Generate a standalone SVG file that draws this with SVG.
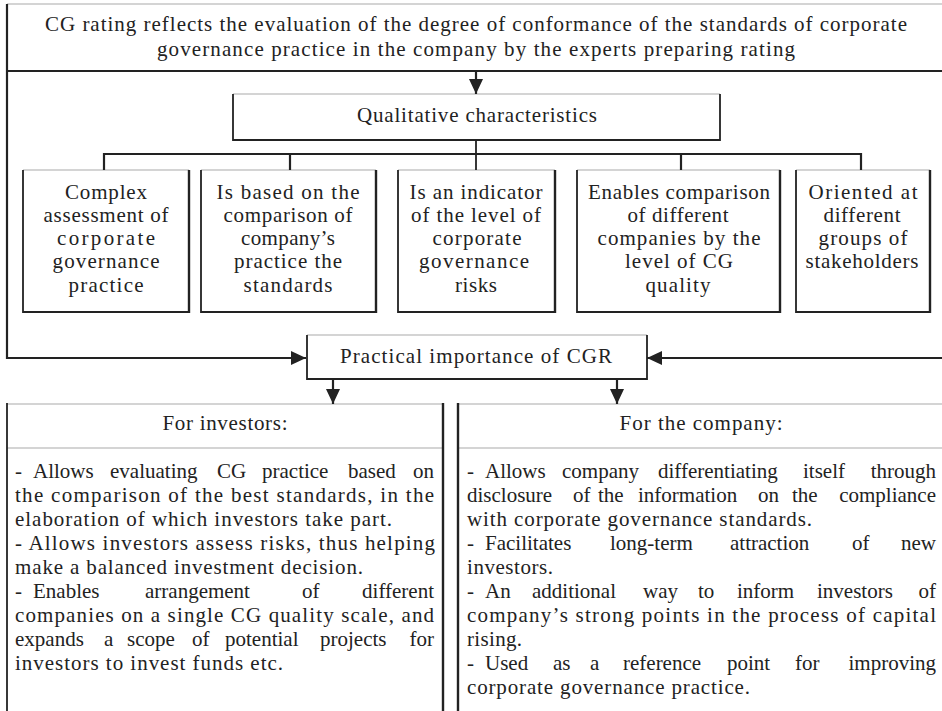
<svg xmlns="http://www.w3.org/2000/svg" width="942" height="711" viewBox="0 0 942 711">
<defs>
<style>
text{font-family:'Liberation Serif','DejaVu Serif',serif;font-size:21px;fill:#222}
.c{text-anchor:middle}
.e{text-anchor:end}
.dk{stroke:#222;stroke-width:1.8;fill:none}
.th{stroke:#222;stroke-width:2.4;fill:none}
.gr{stroke:#aaa;stroke-width:1.2;fill:none}
.cn{stroke:#222;stroke-width:2.2;fill:none}
</style>
<marker id="ah" markerWidth="16" markerHeight="16" refX="15" refY="7" orient="auto" markerUnits="userSpaceOnUse">
<path d="M0,0 L15,7 L0,14 z" fill="#222"/>
</marker>
</defs>
<rect width="942" height="711" fill="#fff"/>

<g id="top" font-family="Liberation Serif, serif">
<line class="gr" x1="7" y1="4" x2="942" y2="4"/>
<line class="dk" x1="7" y1="71" x2="942" y2="71"/>
<text class="c" x="476" y="31" textLength="862" lengthAdjust="spacing">CG rating reflects the evaluation of the degree of conformance of the standards of corporate</text>
<text class="c" x="476" y="56" textLength="638" lengthAdjust="spacing">governance practice in the company by the experts preparing rating</text>
</g>

<g id="qual">
<line class="gr" x1="233" y1="94" x2="720" y2="94"/>
<path class="dk" d="M233,94 V140 H720 V94"/>
<text class="c" x="477" y="122" textLength="240" lengthAdjust="spacing">Qualitative characteristics</text>
</g>

<g id="c1">
<line class="gr" x1="23" y1="170" x2="189" y2="170"/>
<path class="dk" d="M23,170 V312 H189"/>
<line class="th" x1="189" y1="170" x2="189" y2="313"/>
<text class="c" x="106" y="199" textLength="82" lengthAdjust="spacing">Complex</text>
<text class="c" x="106" y="222" textLength="125" lengthAdjust="spacing">assessment of</text>
<text class="c" x="106" y="245" textLength="98" lengthAdjust="spacing">corporate</text>
<text class="c" x="106" y="268" textLength="107" lengthAdjust="spacing">governance</text>
<text class="c" x="106" y="292" textLength="75" lengthAdjust="spacing">practice</text>
</g>

<g id="c2">
<line class="gr" x1="201" y1="170" x2="376" y2="170"/>
<path class="dk" d="M201,170 V312 H376"/>
<line class="th" x1="376" y1="170" x2="376" y2="313"/>
<text class="c" x="288" y="199" textLength="143" lengthAdjust="spacing">Is based on the</text>
<text class="c" x="288" y="222" textLength="129" lengthAdjust="spacing">comparison of</text>
<text class="c" x="288" y="245" textLength="94" lengthAdjust="spacing">company’s</text>
<text class="c" x="288" y="268" textLength="108" lengthAdjust="spacing">practice the</text>
<text class="c" x="288" y="292" textLength="89" lengthAdjust="spacing">standards</text>
</g>

<g id="c3">
<line class="gr" x1="398" y1="170" x2="555" y2="170"/>
<path class="dk" d="M398,170 V312 H555"/>
<line class="th" x1="555" y1="170" x2="555" y2="313"/>
<text class="c" x="476" y="199" textLength="133" lengthAdjust="spacing">Is an indicator</text>
<text class="c" x="476" y="222" textLength="130" lengthAdjust="spacing">of the level of</text>
<text class="c" x="477" y="245" textLength="89" lengthAdjust="spacing">corporate</text>
<text class="c" x="474" y="268" textLength="110" lengthAdjust="spacing">governance</text>
<text class="c" x="476" y="292" textLength="42" lengthAdjust="spacing">risks</text>
</g>

<g id="c4">
<line class="gr" x1="577" y1="170" x2="780" y2="170"/>
<path class="dk" d="M577,170 V312 H780"/>
<line class="th" x1="780" y1="170" x2="780" y2="313"/>
<text class="c" x="679" y="199" textLength="182" lengthAdjust="spacing">Enables comparison</text>
<text class="c" x="678" y="222" textLength="101" lengthAdjust="spacing">of different</text>
<text class="c" x="679" y="245" textLength="163" lengthAdjust="spacing">companies by the</text>
<text class="c" x="679" y="268" textLength="108" lengthAdjust="spacing">level of CG</text>
<text class="c" x="678" y="292" textLength="65" lengthAdjust="spacing">quality</text>
</g>

<g id="c5">
<line class="gr" x1="796" y1="170" x2="930" y2="170"/>
<path class="dk" d="M796,170 V312 H930"/>
<line class="th" x1="930" y1="170" x2="930" y2="313"/>
<text class="c" x="863" y="199" textLength="109" lengthAdjust="spacing">Oriented at</text>
<text class="c" x="862" y="222" textLength="77" lengthAdjust="spacing">different</text>
<text class="c" x="863" y="245" textLength="89" lengthAdjust="spacing">groups of</text>
<text class="c" x="862" y="268" textLength="113" lengthAdjust="spacing">stakeholders</text>
</g>

<g id="practical">
<line class="gr" x1="307" y1="335" x2="647" y2="335"/>
<path class="dk" d="M307,335 V379 H647 V335"/>
<text class="c" x="476" y="363" textLength="272" lengthAdjust="spacing">Practical importance of CGR</text>
</g>

<g id="investors">
<line class="gr" x1="7" y1="404" x2="443" y2="404"/>
<line class="gr" x1="7" y1="448" x2="443" y2="448"/>
<line class="dk" x1="7" y1="403" x2="7" y2="711"/>
<line class="th" x1="443" y1="403" x2="443" y2="711"/>
<text class="c" x="225" y="430" textLength="125" lengthAdjust="spacing">For investors:</text>
<text y="478"><tspan x="15">-</tspan><tspan x="33">Allows</tspan><tspan x="110">evaluating</tspan><tspan x="217">CG</tspan><tspan x="262">practice</tspan><tspan x="348">based</tspan><tspan x="434" class="e">on</tspan></text>
<text x="15" y="502" textLength="419" lengthAdjust="spacing">the comparison of the best standards, in the</text>
<text x="15" y="526" textLength="377" lengthAdjust="spacing">elaboration of which investors take part.</text>
<text x="15" y="550" textLength="420" lengthAdjust="spacing">- Allows investors assess risks, thus helping</text>
<text x="15" y="574" textLength="348" lengthAdjust="spacing">make a balanced investment decision.</text>
<text y="598"><tspan x="15">-</tspan><tspan x="33">Enables</tspan><tspan x="145">arrangement</tspan><tspan x="302">of</tspan><tspan x="434" class="e">different</tspan></text>
<text x="15" y="622" textLength="419" lengthAdjust="spacing">companies on a single CG quality scale, and</text>
<text y="646"><tspan x="15">expands</tspan><tspan x="104">a</tspan><tspan x="127">scope</tspan><tspan x="192">of</tspan><tspan x="225">potential</tspan><tspan x="320">projects</tspan><tspan x="434" class="e">for</tspan></text>
<text x="15" y="670" textLength="268" lengthAdjust="spacing">investors to invest funds etc.</text>
</g>

<g id="company">
<line class="gr" x1="458" y1="404" x2="942" y2="404"/>
<line class="gr" x1="458" y1="448" x2="942" y2="448"/>
<line class="th" x1="458" y1="403" x2="458" y2="711"/>
<text class="c" x="701" y="430" textLength="163" lengthAdjust="spacing">For the company:</text>
<text y="478"><tspan x="467">-</tspan><tspan x="485">Allows</tspan><tspan x="562">company</tspan><tspan x="658">differentiating</tspan><tspan x="803">itself</tspan><tspan x="936" class="e">through</tspan></text>
<text y="502"><tspan x="467">disclosure</tspan><tspan x="573">of</tspan><tspan x="598">the</tspan><tspan x="638">information</tspan><tspan x="758">on</tspan><tspan x="792">the</tspan><tspan x="936" class="e">compliance</tspan></text>
<text x="467" y="526" textLength="345" lengthAdjust="spacing">with corporate governance standards.</text>
<text y="550"><tspan x="467">-</tspan><tspan x="485">Facilitates</tspan><tspan x="610">long-term</tspan><tspan x="730">attraction</tspan><tspan x="852">of</tspan><tspan x="936" class="e">new</tspan></text>
<text x="467" y="574" textLength="86" lengthAdjust="spacing">investors.</text>
<text y="598"><tspan x="467">-</tspan><tspan x="485">An</tspan><tspan x="532">additional</tspan><tspan x="643">way</tspan><tspan x="698">to</tspan><tspan x="737">inform</tspan><tspan x="817">investors</tspan><tspan x="936" class="e">of</tspan></text>
<text x="467" y="622" textLength="469" lengthAdjust="spacing">company’s strong points in the process of capital</text>
<text x="467" y="646" textLength="55" lengthAdjust="spacing">rising.</text>
<text y="670"><tspan x="467">-</tspan><tspan x="485">Used</tspan><tspan x="553">as</tspan><tspan x="590">a</tspan><tspan x="623">reference</tspan><tspan x="727">point</tspan><tspan x="795">for</tspan><tspan x="936" class="e">improving</tspan></text>
<text x="467" y="694" textLength="283" lengthAdjust="spacing">corporate governance practice.</text>
</g>

<g id="connectors">
<line class="cn" x1="476" y1="71" x2="476" y2="94" marker-end="url(#ah)"/>
<line class="dk" x1="476" y1="140" x2="476" y2="170"/>
<line class="cn" x1="104" y1="154" x2="861" y2="154"/>
<line class="cn" x1="104" y1="153" x2="104" y2="170"/>
<line class="cn" x1="290" y1="153" x2="290" y2="170"/>
<line class="cn" x1="681" y1="153" x2="681" y2="170"/>
<line class="cn" x1="861" y1="153" x2="861" y2="170"/>
<path class="cn" d="M7,4 V358 H306" marker-end="url(#ah)"/>
<line class="cn" x1="942" y1="358" x2="647" y2="358" marker-end="url(#ah)"/>
<line class="cn" x1="333" y1="379" x2="333" y2="404" marker-end="url(#ah)"/>
<line class="cn" x1="617" y1="379" x2="617" y2="404" marker-end="url(#ah)"/>
</g>
</svg>
